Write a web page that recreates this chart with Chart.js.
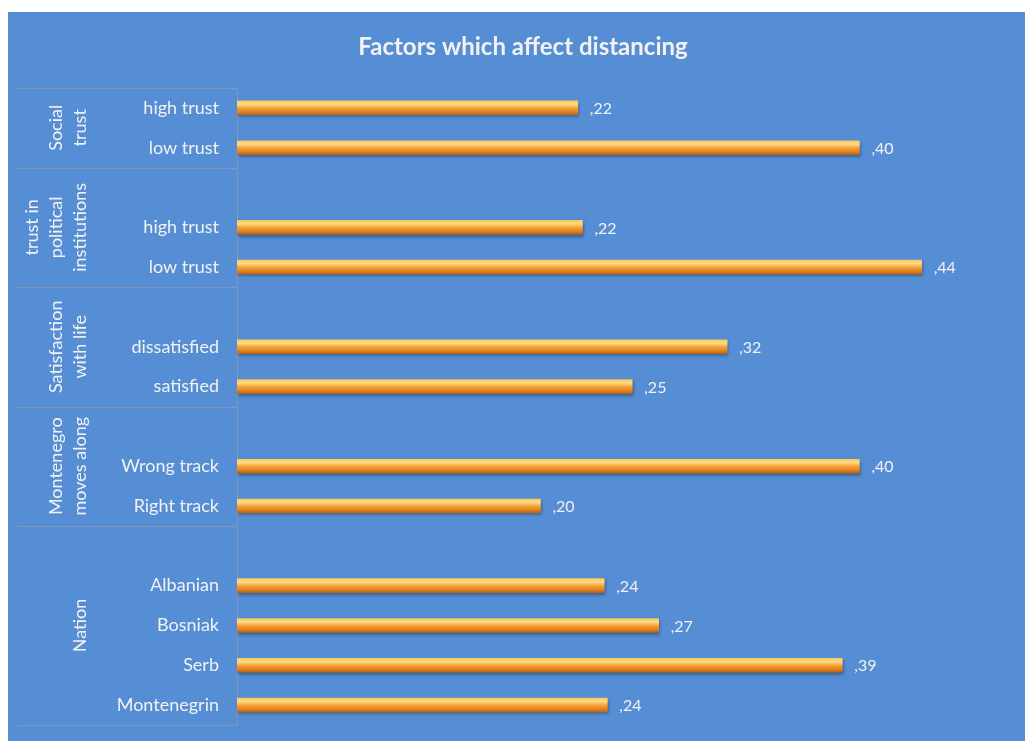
<!DOCTYPE html>
<html>
<head>
<meta charset="utf-8">
<script src="https://cdn.jsdelivr.net/npm/chart.js@4"></script>
<style>
  body { margin: 0; background: #fff; }
  #chart-container { position: absolute; left: 8px; top: 12px; width: 1017px; height: 729px; background: #558ed5; }
</style>
</head>
<body>
<div id="chart-container"><canvas id="distChart"></canvas></div>
<script>
// rows of the category axis, '' marks the empty row that opens a group
const categories = ['high trust', 'low trust', '', 'high trust', 'low trust', '', 'dissatisfied', 'satisfied',
  '', 'Wrong track', 'Right track', '', 'Albanian', 'Bosniak', 'Serb', 'Montenegrin'];
const values = [0.219, 0.400, null, 0.222, 0.440, null, 0.315, 0.254,
  null, 0.400, 0.195, null, 0.236, 0.271, 0.389, 0.238];

// outer level of the axis: label lines and first/last row index
const groupLabels = [['Social', 'trust'], ['trust in', 'political', 'institutions'], ['Satisfaction', 'with life'],
  ['Montenegro', 'moves along'], ['Nation']];
const groupRows = [[0, 1], [2, 4], [5, 7], [8, 10], [11, 15]];

const titleText = 'Factors which affect distancing';
const lineColor = 'rgba(150,155,170,0.7)';
const textColor = '#f2f2f2';

function barGradient(c) {
  const ys = c.chart.scales.y;
  if (!ys || c.type !== 'data') return '#f59c2f';
  const yc = ys.getPixelForValue(c.dataIndex);
  if (!isFinite(yc)) return '#f59c2f';
  const g = c.chart.ctx.createLinearGradient(0, yc - 7, 0, yc + 7);
  g.addColorStop(0, '#fbc860');
  g.addColorStop(0.25, '#fddc84');
  g.addColorStop(0.5, '#f6a43a');
  g.addColorStop(0.8, '#e0801f');
  g.addColorStop(1, '#b8621a');
  return g;
}

const decorations = {
  id: 'decorations',
  beforeDatasetsDraw(chart) {
    const ctx = chart.ctx;
    ctx.save();
    ctx.shadowColor = 'rgba(0,0,0,0.35)';
    ctx.shadowOffsetY = 2;
    ctx.shadowOffsetX = 1;
    ctx.shadowBlur = 3;
  },
  afterDatasetsDraw(chart) {
    const ctx = chart.ctx;
    ctx.restore();
    // value labels like ",22"
    const meta = chart.getDatasetMeta(0);
    ctx.save();
    ctx.fillStyle = textColor;
    ctx.font = '16px Lato';
    ctx.textBaseline = 'middle';
    meta.data.forEach((bar, i) => {
      if (values[i] == null) return;
      ctx.fillText(values[i].toFixed(2).replace('0.', ','), bar.x + 12, bar.y + 1);
    });
    ctx.restore();
  },
  afterDraw(chart) {
    const ctx = chart.ctx;
    const ys = chart.scales.y;
    const step = ys.getPixelForValue(1) - ys.getPixelForValue(0);
    ctx.save();
    // title
    ctx.fillStyle = textColor;
    ctx.font = 'bold 24px Lato';
    ctx.textAlign = 'center';
    ctx.textBaseline = 'middle';
    ctx.fillText(titleText, 515, 35);

    // group separators and rotated group names
    ctx.strokeStyle = lineColor;
    ctx.lineWidth = 1;
    groupRows.forEach((r, gi) => {
      const top = ys.getPixelForValue(r[0]) - step / 2;
      const bottom = ys.getPixelForValue(r[1]) + step / 2;
      ctx.beginPath();
      ctx.moveTo(10, Math.round(top) + 0.5);
      ctx.lineTo(ys.right, Math.round(top) + 0.5);
      if (gi === groupRows.length - 1) {
        ctx.moveTo(10, Math.round(bottom) + 0.5);
        ctx.lineTo(ys.right, Math.round(bottom) + 0.5);
      }
      ctx.stroke();

      const lines = groupLabels[gi];
      ctx.save();
      ctx.translate(0, (top + bottom) / 2);
      ctx.rotate(-Math.PI / 2);
      ctx.font = '18px Lato';
      ctx.fillStyle = textColor;
      lines.forEach((t, li) => {
        const x = 72 - (lines.length - 1 - li) * 24;
        ctx.fillText(t, 0, x);
      });
      ctx.restore();
    });
    ctx.restore();
  }
};

const chart = new Chart(document.getElementById('distChart'), {
  type: 'bar',
  data: {
    labels: categories,
    datasets: [{
      data: values,
      backgroundColor: barGradient,
      barThickness: 14,
      borderWidth: 0
    }]
  },
  options: {
    indexAxis: 'y',
    responsive: true,
    maintainAspectRatio: false,
    animation: false,
    layout: { padding: { top: 76, bottom: 16, left: 0, right: 10 } },
    plugins: {
      legend: { display: false },
      title: { display: false },
      tooltip: { enabled: false }
    },
    scales: {
      x: { display: false, min: 0, max: 0.5 },
      y: {
        grid: { display: false, drawTicks: false },
        border: { display: true, color: lineColor },
        ticks: { color: textColor, padding: 18, font: { family: 'Lato', size: 18 } },
        afterFit(scale) {
          scale.width = 229;
          scale.paddingTop = 0;
          scale.paddingBottom = 0;
        }
      }
    }
  },
  plugins: [decorations]
});
chart.update();
</script>
</body>
</html>
